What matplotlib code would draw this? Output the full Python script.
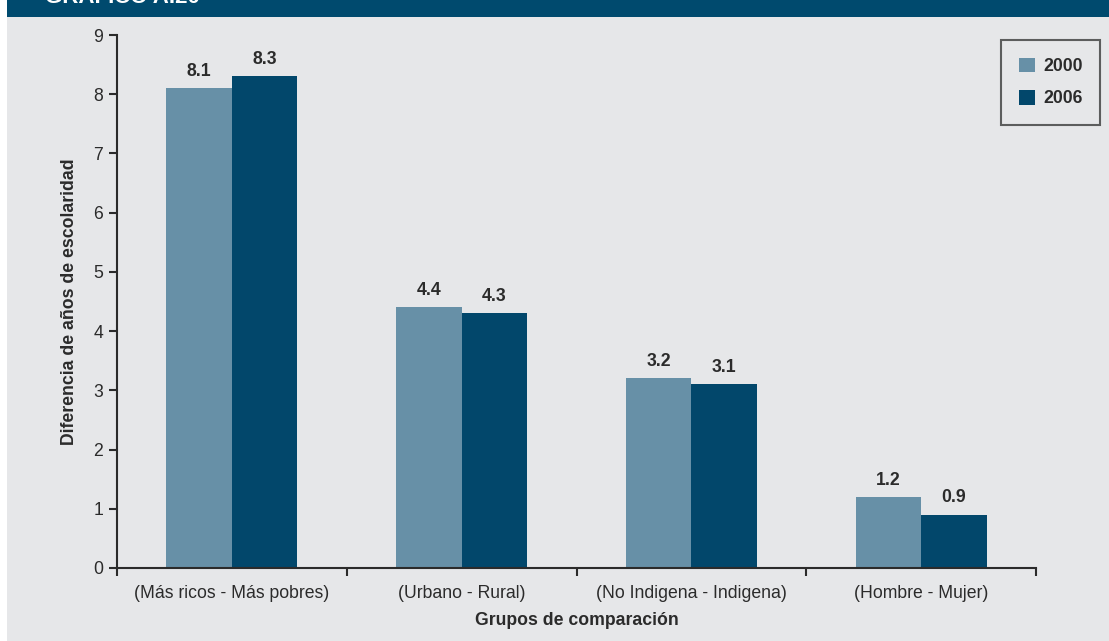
import matplotlib
matplotlib.use("Agg")
import matplotlib.pyplot as plt
import numpy as np
from matplotlib.patches import Rectangle

plt.rcParams['font.family'] = ['Liberation Sans', 'DejaVu Sans']

categories = ["(Más ricos - Más pobres)", "(Urbano - Rural)",
              "(No Indigena - Indigena)", "(Hombre - Mujer)"]
series_names = ["2000", "2006"]
values_2000 = [8.1, 4.4, 3.2, 1.2]
values_2006 = [8.3, 4.3, 3.1, 0.9]
value_labels_2000 = ["8.1", "4.4", "3.2", "1.2"]
value_labels_2006 = ["8.3", "4.3", "3.1", "0.9"]
y_ticks = [0, 1, 2, 3, 4, 5, 6, 7, 8, 9]

bg = "#e6e7e9"
banner = "#004a6e"
c2000 = "#6790a7"
c2006 = "#02476b"
ink = "#2b2b2b"

W, H = 1109, 641
fig = plt.figure(figsize=(W / 100, H / 100), dpi=100)
fig.patch.set_facecolor(bg)

# white strip on the left and title banner on top
fig.patches.append(Rectangle((0, 0), 7 / W, 1, transform=fig.transFigure,
                             facecolor="white", edgecolor="none", zorder=0))
fig.patches.append(Rectangle((7 / W, 1 - 17 / H), 1, 17 / H, transform=fig.transFigure,
                             facecolor=banner, edgecolor="none", zorder=1))
fig.text(45 / W, 1 - 3 / H, "GRÁFICO A.20", color="white", fontsize=16,
         fontweight="bold", va="baseline", ha="left", zorder=2)

ax = fig.add_axes([117 / W, (H - 568) / H, (1036 - 117) / W, (568 - 35) / H])
ax.set_facecolor(bg)

x = np.arange(len(categories)) + 0.5
bw = 0.285
b1 = ax.bar(x - bw / 2, values_2000, bw, color=c2000, label=series_names[0], zorder=2)
b2 = ax.bar(x + bw / 2, values_2006, bw, color=c2006, label=series_names[1], zorder=2)

for xi, v, t in zip(x - bw / 2, values_2000, value_labels_2000):
    ax.annotate(t, (xi, v), xytext=(0, 6), textcoords="offset points",
                ha="center", va="bottom", fontsize=12.7, fontweight="bold", color=ink)
for xi, v, t in zip(x + bw / 2, values_2006, value_labels_2006):
    ax.annotate(t, (xi, v), xytext=(0, 6), textcoords="offset points",
                ha="center", va="bottom", fontsize=12.7, fontweight="bold", color=ink)

ax.set_xlim(0, len(categories))
ax.set_ylim(0, 9)
ax.set_yticks(y_ticks)
ax.set_yticklabels([str(t) for t in y_ticks])
ax.set_xticks(np.arange(len(categories) + 1))
ax.set_xticklabels([])
ax.set_xticks(x, minor=True)
ax.set_xticklabels(categories, minor=True)
ax.tick_params(axis="x", which="minor", length=0, pad=12, labelsize=12.7, colors=ink)
ax.tick_params(axis="x", which="major", length=6, width=1.5, direction="out", color=ink)
ax.tick_params(axis="y", length=6, width=1.5, direction="out", color=ink,
               labelsize=12.7, labelcolor=ink, pad=4)

for s in ["top", "right"]:
    ax.spines[s].set_visible(False)
for s in ["left", "bottom"]:
    ax.spines[s].set_color(ink)
    ax.spines[s].set_linewidth(1.5)

ax.set_ylabel("Diferencia de años de escolaridad", fontsize=12.7,
              fontweight="bold", color=ink, labelpad=11)
ax.set_xlabel("Grupos de comparación", fontsize=12.7, fontweight="bold",
              color=ink, labelpad=7.5)

leg = fig.legend(handles=[b1, b2], labels=series_names,
                 loc="upper left", bbox_to_anchor=(1001 / W, 1 - 40 / H),
                 frameon=True, fancybox=False, prop={"weight": "bold", "size": 12.7},
                 handlelength=0.9, handleheight=0.9, handletextpad=0.5,
                 borderpad=1.0, labelspacing=0.85, borderaxespad=0)
leg.get_frame().set_edgecolor("#3a3a3a")
leg.get_frame().set_linewidth(1.5)
leg.get_frame().set_facecolor(bg)
for t in leg.get_texts():
    t.set_color(ink)

fig.savefig("out.png", dpi=100, facecolor=bg)
